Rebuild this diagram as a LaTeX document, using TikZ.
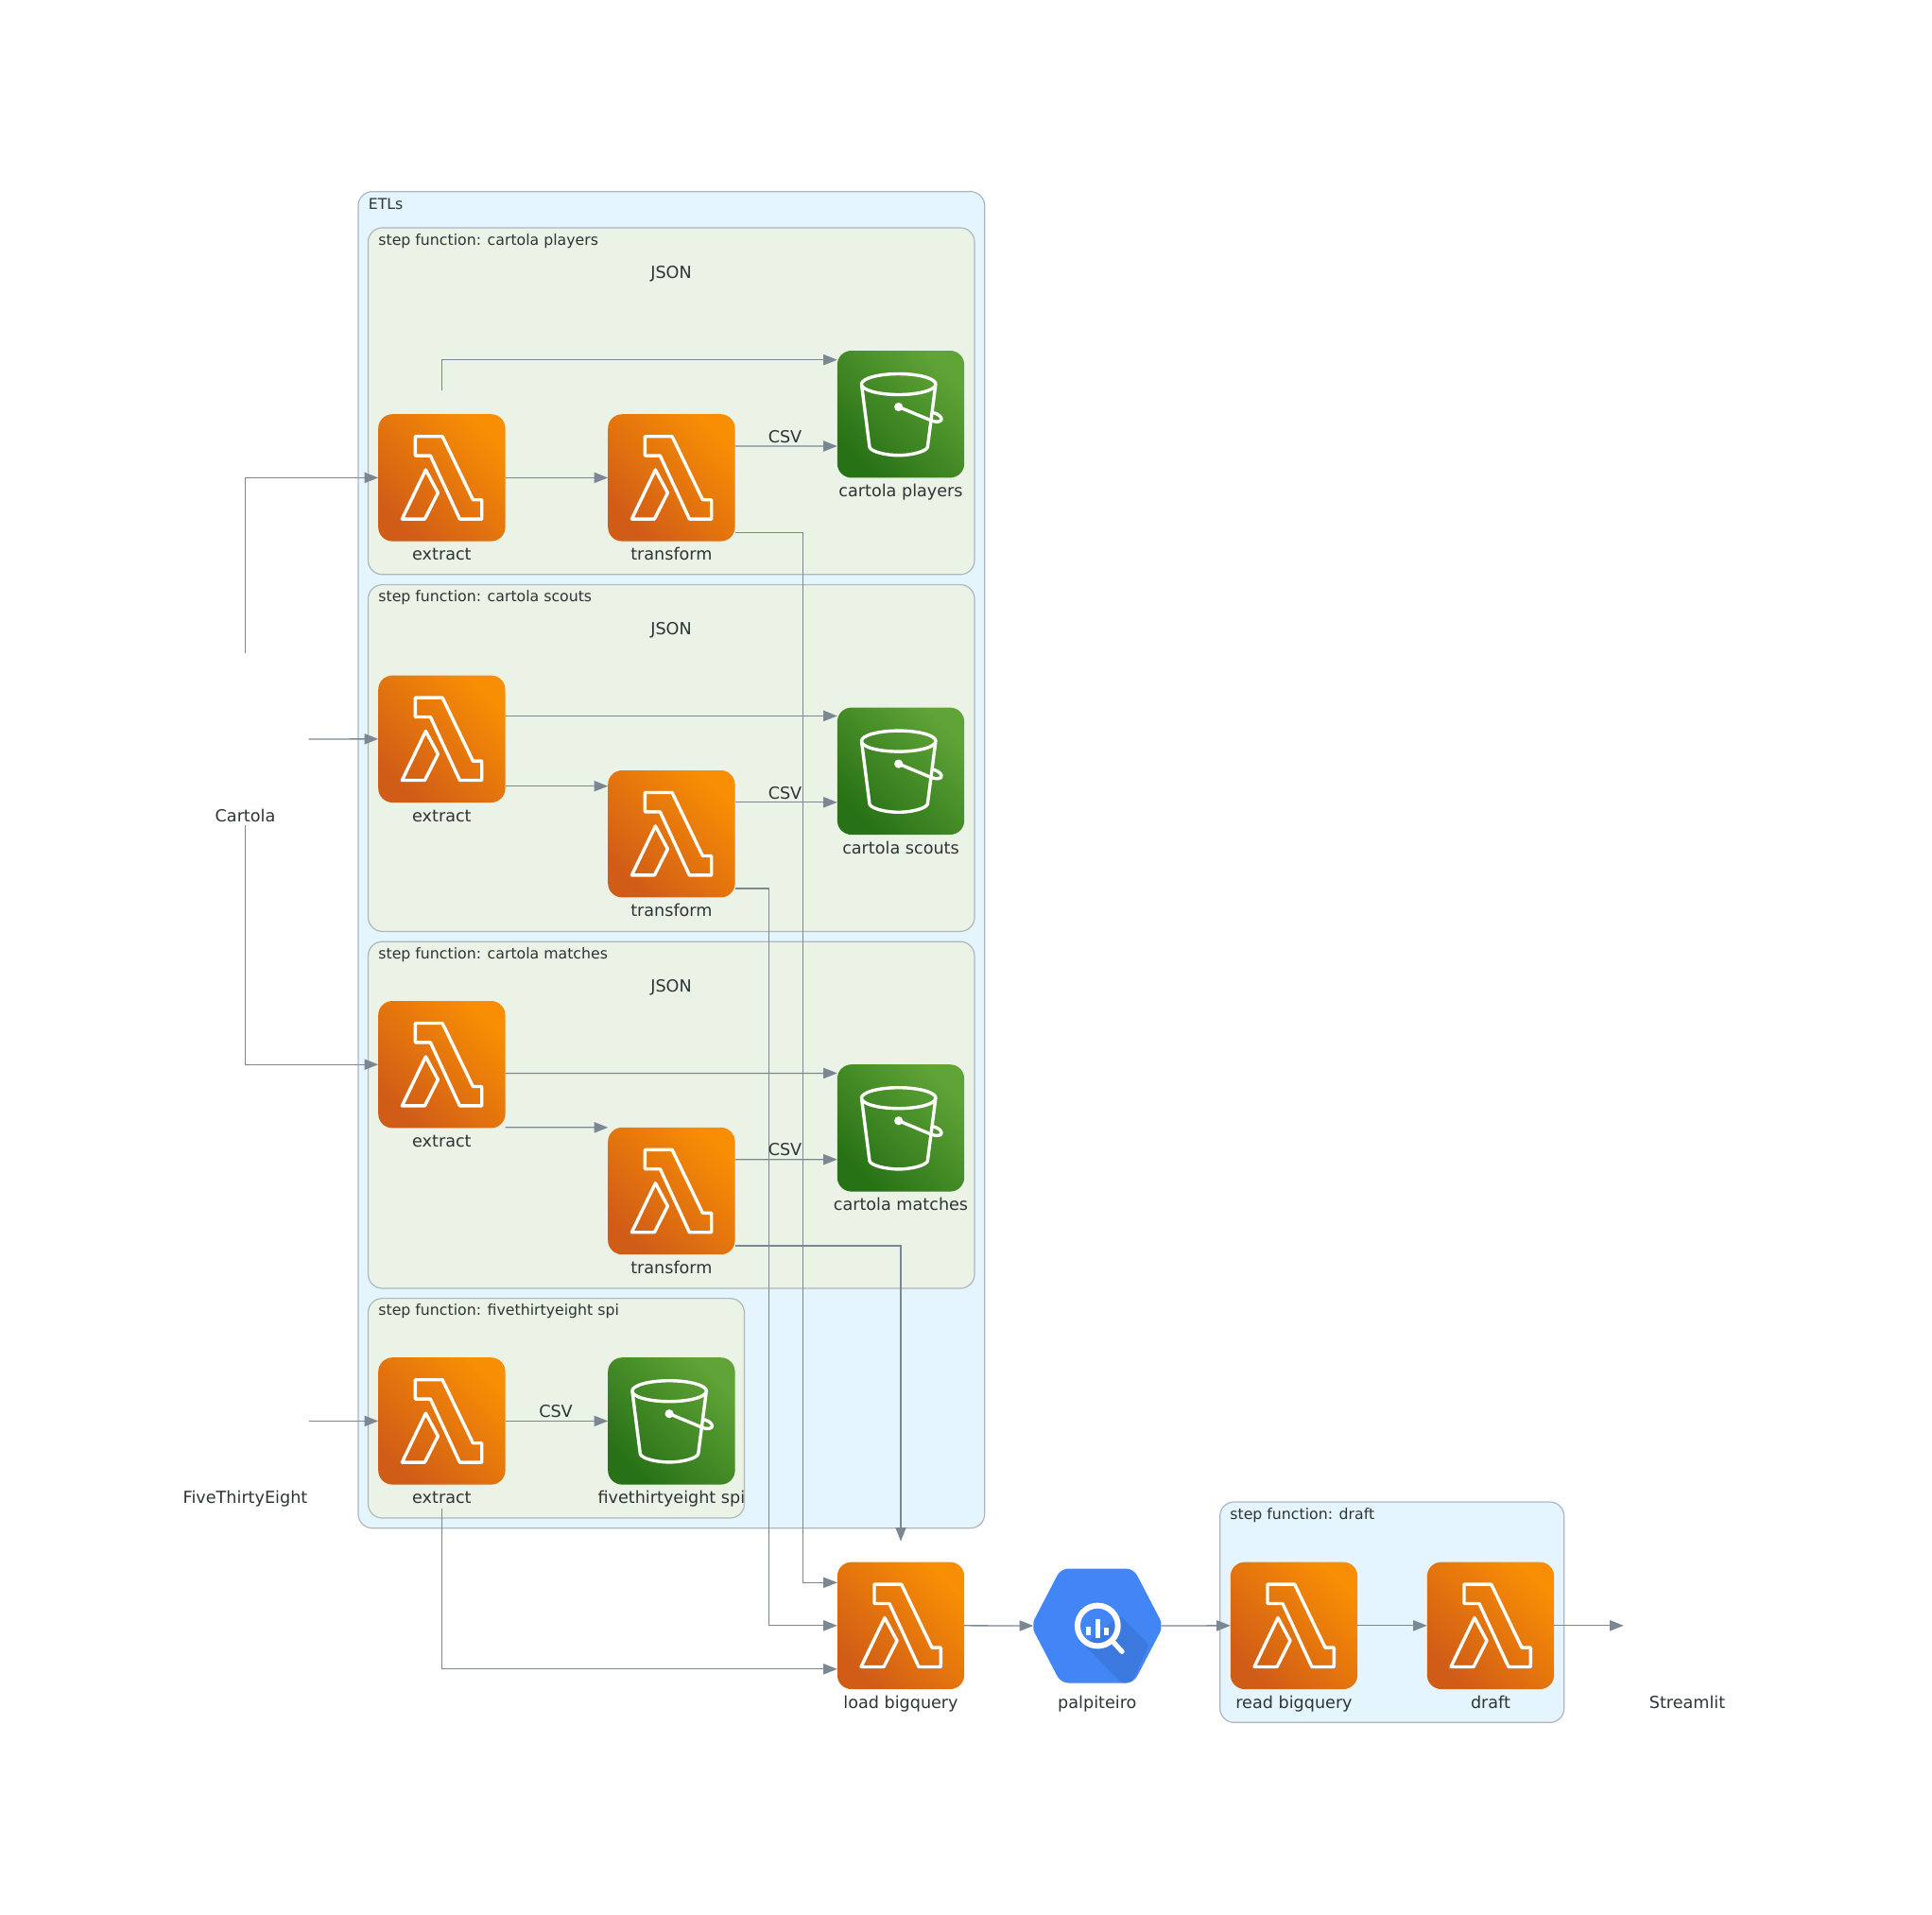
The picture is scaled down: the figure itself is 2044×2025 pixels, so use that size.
\documentclass[tikz,border=0pt]{standalone}
\usepackage{fontspec}
\setmainfont{DejaVu Sans}
\usetikzlibrary{
    arrows.meta,
    calc,
    fit
}
\definecolor{etlfill}{HTML}{E5F5FD}
\definecolor{stepfill}{HTML}{EBF3E7}
\definecolor{boxline}{HTML}{AEB6BE}
\definecolor{wirecol}{HTML}{7B8894}
\definecolor{textcol}{HTML}{2D3436}
\definecolor{lamlo}{HTML}{D05C17}
\definecolor{lamhi}{HTML}{F78E04}
\definecolor{bktlo}{HTML}{277116}
\definecolor{bkthi}{HTML}{60A437}
\definecolor{gblue}{HTML}{4285F4}
\definecolor{gshade}{HTML}{3C79DF}
\newcommand{\lambdaglyph}{
    \draw[glyph] (-28,-43.7) -- (0.7,-43.7) -- (33,23.3) -- (42.3,23.3) -- (42.3,43.7) -- (19,43.7) -- (-12,-23.3) -- (-28,-23.3) -- cycle;
    \draw[glyph] (-17,-8.3) -- (-4,16) -- (-18,43.7) -- (-42,43.7) -- cycle;
}
\newcommand{\bucketglyph}{
    \draw[glyph] (-2.3,-31.7) ellipse (39.3 and 11);
    \draw[glyph] (-41.3,-30) -- (-33,35) .. controls (-31,40) and (-15,43.5) .. (-2.3,43.5) .. controls (10,43.5) and (26,40) .. (28.3,35) -- (36.7,-30);
    \fill[white, glyphfill] (-2.3,-7.7) circle (4.6);
    \draw[glyph] (-2.3,-7.7) -- (33,7) .. controls (38,9) and (44,8) .. (43,4.5) .. controls (42,1) and (37,-1) .. (33.7,-1.7);
}
\newcommand{\bigqueryglyph}{
    \fill[gblue, rounded corners=4pt] (-70,0) -- (-38.5,-60.5) -- (38.5,-60.5) -- (70,0) -- (38.5,60.5) -- (-38.5,60.5) -- cycle;
    \fill[gshade, rounded corners=2pt] (24,-11) -- (55,20) -- (38,57) -- (34,60.5) -- (26,60.5) -- (-14,20) -- cycle;
    \draw[white, line width=3pt] (0.5,0) circle (21.4);
    \draw[white, line width=2.6pt, line cap=round] (17.7,18) -- (26.3,27.3);
    \fill[white] (-12,0.7) rectangle (-7.3,10);
    \fill[white] (-2,-6.7) rectangle (2.7,13.3);
    \fill[white] (7,2.3) rectangle (11.7,10);
}
\tikzset{
    glyphfill/.style={sharp corners, x=0.5pt, y=-0.5pt},
    glyph/.style={draw=white, line width=1.7pt, line join=round, sharp corners, x=0.5pt, y=-0.5pt},
    etlbox/.style={draw=boxline, fill=etlfill, line width=0.6pt, rounded corners=7.5pt, inner sep=0pt, outer sep=0pt},
    stepbox/.style={draw=boxline, fill=stepfill, line width=0.6pt, rounded corners=7.5pt, inner sep=0pt, outer sep=0pt},
    title/.style={anchor=west, text=textcol, font=\fontsize{7.87}{10}\selectfont, inner sep=0pt},
    iconlabel/.style={text=textcol, font=\fontsize{8.8}{10}\selectfont, inner sep=0pt, text height=6.6pt, text depth=1.8pt, label distance=3.2pt},
    edgelabel/.style={text=textcol, font=\fontsize{8.8}{10}\selectfont, inner sep=0pt},
    icon/.style={minimum size=67.2pt, inner sep=0pt, outer sep=0pt},
    lambdaicon/.style={icon, rounded corners=7.5pt, top color=lamhi, bottom color=lamlo, shading angle=-45, path picture={\lambdaglyph}},
    bucketicon/.style={icon, rounded corners=7.5pt, top color=bkthi, bottom color=bktlo, shading angle=-45, path picture={\bucketglyph}},
    bigqueryicon/.style={minimum width=67.5pt, minimum height=60.7pt, inner sep=0pt, outer sep=0pt, path picture={\bigqueryglyph}},
    blankicon/.style={icon},
    wire/.style={draw=wirecol, line width=0.65pt, -{Triangle[length=7.3pt,width=5.6pt]}}
}
\begin{document}
\begin{tikzpicture}[x=0.5pt, y=-0.5pt]
    \useasboundingbox (0,0) rectangle (2044,2025);

    \node[etlbox, fit={(379,202.7) (1041.7,1616.7)}] (etls) {};
    \node[stepbox, fit={(389.5,241) (1031,607.8)}] (players) {};
    \node[stepbox, fit={(389.5,618.6) (1031,985.4)}] (scouts) {};
    \node[stepbox, fit={(389.5,996.2) (1031,1363)}] (matches) {};
    \node[stepbox, fit={(389.5,1373.6) (787.5,1606)}] (spi) {};
    \node[etlbox, fit={(1290.7,1589) (1654.7,1822.3)}] (drafts) {};

    \node[title] (etlstitle) at (389.5,216) {ETLs};
    \node[title] (playerstitle) at (400,255) {step function: cartola players};
    \node[title] (scoutstitle) at (400,632.5) {step function: cartola scouts};
    \node[title] (matchestitle) at (400,1010) {step function: cartola matches};
    \node[title] (spititle) at (400,1387.5) {step function: fivethirtyeight spi};
    \node[title] (draftstitle) at (1301,1603) {step function: draft};

    \node[blankicon, label={[iconlabel]below:Cartola}] (cartola) at (259.5,782) {};
    \node[blankicon, label={[iconlabel]below:FiveThirtyEight}] (fivethirtyeight) at (259.5,1503.4) {};

    \node[lambdaicon, label={[iconlabel]below:extract}] (ex1) at (467.4,505.4) {};
    \node[lambdaicon, label={[iconlabel]below:transform}] (tr1) at (710.4,505.4) {};
    \node[bucketicon, label={[iconlabel]below:cartola players}] (bk1) at (953,438.2) {};

    \node[lambdaicon, label={[iconlabel]below:extract}] (ex2) at (467.4,781.8) {};
    \node[lambdaicon, label={[iconlabel]below:transform}] (tr2) at (710.4,882.2) {};
    \node[bucketicon, label={[iconlabel]below:cartola scouts}] (bk2) at (953,815.8) {};

    \node[lambdaicon, label={[iconlabel]below:extract}] (ex3) at (467.4,1126.2) {};
    \node[lambdaicon, label={[iconlabel]below:transform}] (tr3) at (710.4,1260) {};
    \node[bucketicon, label={[iconlabel]below:cartola matches}] (bk3) at (953,1193.4) {};

    \node[lambdaicon, label={[iconlabel]below:extract}] (ex4) at (467.4,1503.4) {};
    \node[bucketicon, label={[iconlabel]below:fivethirtyeight spi}] (bk4) at (710.4,1503.4) {};

    \node[lambdaicon, label={[iconlabel]below:load bigquery}] (load) at (953,1719.8) {};
    \node[bigqueryicon, label={[iconlabel, label distance=6.5pt]below:palpiteiro}] (palpiteiro) at (1160.8,1720) {};
    \node[lambdaicon, label={[iconlabel]below:read bigquery}] (read) at (1369,1719.8) {};
    \node[lambdaicon, label={[iconlabel]below:draft}] (draft) at (1577,1719.8) {};
    \node[blankicon, label={[iconlabel]below:Streamlit}] (streamlit) at (1785,1719.8) {};

    \draw[wire] ($(cartola.north)+(0,-24)$) |- (ex1.west);
    \draw[wire] (cartola.east) -- (ex2.west);
    \draw[wire] ($(cartola.south)+(0,24)$) |- (ex3.west);
    \draw[wire] (fivethirtyeight.east) -- (ex4.west);

    \draw[wire] ($(ex1.north)+(0,-25)$) |- ($(bk1.west)+(0,-57.5)$);
    \draw[wire] (ex1.east) -- (tr1.west);
    \draw[wire] ($(tr1.east)+(0,-33.4)$) -- ($(bk1.west)+(0,33.8)$);
    \draw[wire] ($(tr1.east)+(0,57.9)$) -- ++(72.1,0) |- ($(load.west)+(0,-45.5)$);

    \draw[wire] ($(ex2.east)+(0,-24.4)$) -- ($(bk2.west)+(0,-58.4)$);
    \draw[wire] ($(ex2.east)+(0,49.9)$) -- ($(tr2.west)+(0,-50.5)$);
    \draw[wire] ($(tr2.east)+(0,-33.4)$) -- ($(bk2.west)+(0,33)$);
    \draw[wire] ($(tr2.east)+(0,57.9)$) -- ++(35.9,0) |- (load.west);

    \draw[wire] ($(ex3.east)+(0,9.2)$) -- ($(bk3.west)+(0,-58)$);
    \draw[wire] ($(ex3.east)+(0,66.6)$) -- ($(tr3.west)+(0,-67.2)$);
    \draw[wire] ($(tr3.east)+(0,-33.3)$) -- ($(bk3.west)+(0,33.3)$);
    \draw[wire] ($(tr3.east)+(0,58)$) -| ($(load.north)+(0,-22)$);

    \draw[wire] (ex4.east) -- (bk4.west);
    \draw[wire] ($(ex4.south)+(0,25.6)$) |- ($(load.west)+(0,46)$);

    \draw[wire] (load.east) -- (palpiteiro.west);
    \draw[wire] (palpiteiro.east) -- (read.west);
    \draw[wire] (read.east) -- (draft.west);
    \draw[wire] (draft.east) -- (streamlit.west);

    \node[edgelabel] (json1) at (710,290) {JSON};
    \node[edgelabel] (csv1) at (830.5,461.7) {CSV};
    \node[edgelabel] (json2) at (710,667) {JSON};
    \node[edgelabel] (csv2) at (830.5,839) {CSV};
    \node[edgelabel] (json3) at (710,1045) {JSON};
    \node[edgelabel] (csv3) at (830.5,1216) {CSV};
    \node[edgelabel] (csv4) at (588,1492.6) {CSV};
\end{tikzpicture}
\end{document}
